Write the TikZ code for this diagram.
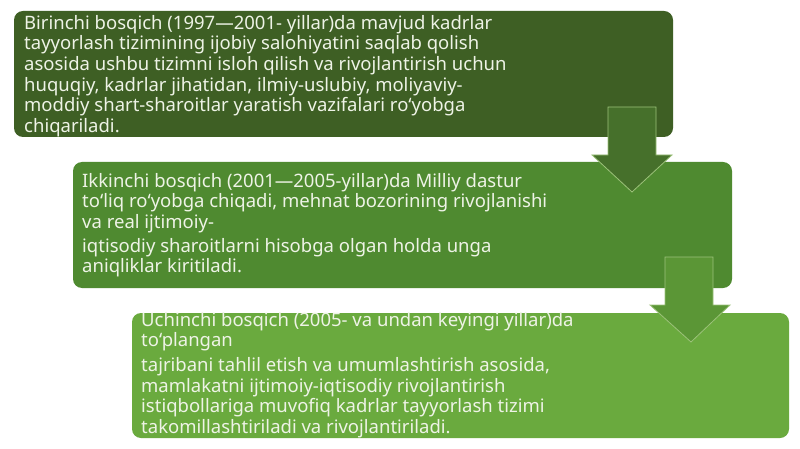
\documentclass[tikz,border=0pt]{standalone}
\usepackage{fontspec}
\setmainfont{Noto Sans}
\definecolor{boxA}{HTML}{3E5F24}
\definecolor{boxB}{HTML}{4F8A30}
\definecolor{boxC}{HTML}{6AAA3E}
\definecolor{arrA}{HTML}{46702B}
\definecolor{arrB}{HTML}{5B9636}
\definecolor{arrEdge}{HTML}{9CC27A}
\definecolor{txt}{HTML}{EEF3E6}
\tikzset{
  stagebox/.style={rounded corners=9pt},
  stagetext/.style={anchor=north west, inner sep=0pt, align=left, text=txt,
    font=\fontsize{18.5}{20.6}\selectfont},
  blockarrow/.style={draw=arrEdge, line width=0.8pt, line join=miter}
}
\begin{document}
\begin{tikzpicture}[x=1pt,y=-1pt]
\useasboundingbox (0,0) rectangle (800,449);
\fill[white] (0,0) rectangle (800,449);
% boxes
\fill[boxA, stagebox] (14,11) rectangle (673,137);
\fill[boxB, stagebox] (73,162) rectangle (732,288);
\fill[boxC, stagebox] (132,313) rectangle (789,438);
% texts
\node[stagetext] (t1) at (24,15) {Birinchi bosqich (1997—2001- yillar)da mavjud kadrlar\\
tayyorlash tizimining ijobiy salohiyatini saqlab qolish\\
asosida ushbu tizimni isloh qilish va rivojlantirish uchun\\
huquqiy, kadrlar jihatidan, ilmiy-uslubiy, moliyaviy-\\
moddiy shart-sharoitlar yaratish vazifalari ro‘yobga\\
chiqariladi.};
\node[stagetext] (t2) at (82,173) {Ikkinchi bosqich (2001—2005-yillar)da Milliy dastur\\
to‘liq ro‘yobga chiqadi, mehnat bozorining rivojlanishi\\
va real ijtimoiy-\\[3pt]
iqtisodiy sharoitlarni hisobga olgan holda unga\\
aniqliklar kiritiladi.};
\node[stagetext] (t3) at (141,312) {Uchinchi bosqich (2005- va undan keyingi yillar)da\\
to‘plangan\\[4pt]
tajribani tahlil etish va umumlashtirish asosida,\\
mamlakatni ijtimoiy-iqtisodiy rivojlantirish\\
istiqbollariga muvofiq kadrlar tayyorlash tizimi\\
takomillashtiriladi va rivojlantiriladi.};
% block arrows
\filldraw[blockarrow, fill=arrA] (608,107) -- (656,107) -- (656,155) -- (672,155)
  -- (632,192) -- (592,155) -- (608,155) -- cycle;
\filldraw[blockarrow, fill=arrB] (665,257) -- (713,257) -- (713,305) -- (730,305)
  -- (691,342) -- (650,305) -- (665,305) -- cycle;
\end{tikzpicture}
\end{document}
